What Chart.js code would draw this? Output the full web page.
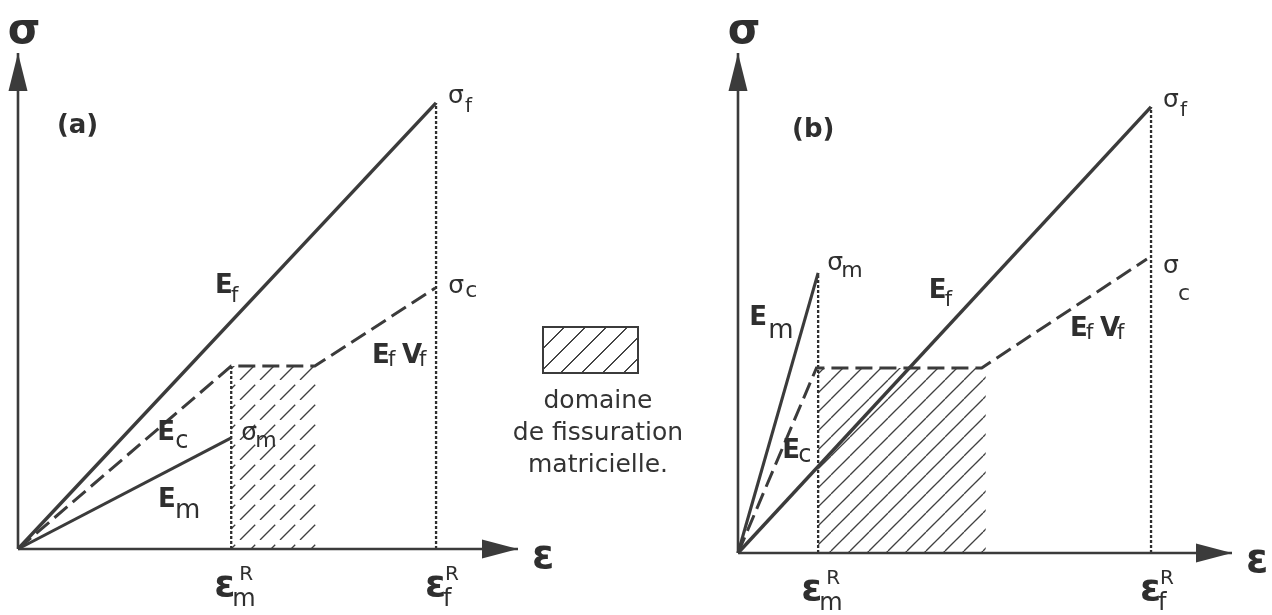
<!DOCTYPE html>
<html>
<head>
<meta charset="utf-8">
<script src="https://cdn.jsdelivr.net/npm/chart.js@4/dist/chart.umd.min.js"></script>
<style>
  html, body { margin:0; padding:0; background:#ffffff; }
  body { width:1272px; height:615px; position:relative; overflow:hidden; }
  canvas { position:absolute; top:0; }
  #cA { left:0; }
  #cB { left:660px; }
  #legBox { position:absolute; left:542px; top:326px; width:97px; height:48px; box-sizing:border-box;
    border:2.6px solid #3b3b3b; z-index:2;
    background: repeating-linear-gradient(135deg, rgba(0,0,0,0) 0 13.3px, #444 13.3px 14.8px); }
  #legText { position:absolute; left:498px; top:384px; width:200px; text-align:center; z-index:2;
    font-family:"DejaVu Sans", sans-serif; font-size:25px; line-height:32px; color:#333; }
</style>
</head>
<body>
<canvas id="cA" width="620" height="615"></canvas>
<canvas id="cB" width="612" height="615"></canvas>
<div id="legBox"></div>
<div id="legText">domaine<br>de fissuration<br>matricielle.</div>
<script>
// ---------- Panel (a): strain (ε) / stress (σ), normalised to ε_f^R = 1, σ_f = 1 ----------
const A_EF_EPS = [0, 1.0];                    const A_EF_SIG = [0, 1.0];
const A_EM_EPS = [0, 0.51];                   const A_EM_SIG = [0, 0.249];
const A_EC_EPS = [0, 0.51, 0.71, 0.998];      const A_EC_SIG = [0, 0.41, 0.41, 0.585];
const A_CRACK_EPS = [0.51, 0.718];            const A_CRACK_SIG = [0.41, 0.41];
const A_AXIS_MAX = [1.196, 1.112];

// ---------- Panel (b) ----------
const B_EF_EPS = [0, 1.0];                    const B_EF_SIG = [0, 1.0];
const B_EM_EPS = [0, 0.194];                  const B_EM_SIG = [0, 0.628];
const B_EC_EPS = [0, 0.19, 0.59, 0.99];       const B_EC_SIG = [0, 0.415, 0.415, 0.659];
const B_CRACK_EPS = [0.194, 0.60];            const B_CRACK_SIG = [0.415, 0.415];
const B_AXIS_MAX = [1.196, 1.121];

const INK = '#3b3b3b';
const FF = '"DejaVu Sans", sans-serif';
const bold = s => `bold ${s}px ${FF}`;
const reg = s => `${s}px ${FF}`;

function pts(xs, ys) { return xs.map((v, i) => ({ x: v, y: ys[i] })); }

function hatch(step, dashed) {
  const c = document.createElement('canvas');
  c.width = step; c.height = step;
  const g = c.getContext('2d');
  g.strokeStyle = '#404040';
  g.lineWidth = 1.3;
  const diag = step * Math.SQRT2;
  if (dashed) g.setLineDash([diag * 0.76, diag * 0.24]);
  for (const k of [-step, 0, step]) {
    g.beginPath();
    g.moveTo(k, step);
    g.lineTo(k + step, 0);
    g.stroke();
  }
  return g.createPattern(c, 'repeat');
}

function line(data, extra) {
  return Object.assign({
    data, borderColor: INK, backgroundColor: INK, pointRadius: 0, pointHoverRadius: 0,
    tension: 0, fill: false, clip: false, borderCapStyle: 'butt', borderJoinStyle: 'miter'
  }, extra);
}

const diagramPlugin = {
  id: 'diagram',
  afterDatasetsDraw(chart, args, opts) {
    const { ctx } = chart;
    const xs = chart.scales.x, ys = chart.scales.y;
    const ox = xs.getPixelForValue(0), oy = ys.getPixelForValue(0);
    const tx = xs.getPixelForValue(xs.max), ty = ys.getPixelForValue(ys.max);
    ctx.save();
    ctx.fillStyle = INK;
    // arrow heads
    ctx.beginPath();
    ctx.moveTo(tx, oy); ctx.lineTo(tx - 36, oy - 9.5); ctx.lineTo(tx - 36, oy + 9.5); ctx.closePath();
    ctx.fill();
    ctx.beginPath();
    ctx.moveTo(ox, ty); ctx.lineTo(ox - 9.5, ty + 38); ctx.lineTo(ox + 9.5, ty + 38); ctx.closePath();
    ctx.fill();
    // labels
    ctx.fillStyle = '#2f2f2f';
    ctx.textBaseline = 'alphabetic';
    for (const lab of opts.labels) {
      const ax = xs.getPixelForValue(lab.at[0]), ay = ys.getPixelForValue(lab.at[1]);
      for (const r of lab.runs) {
        ctx.font = r[1];
        ctx.textAlign = r[4] || 'left';
        ctx.fillText(r[0], ax + r[2], ay + r[3]);
      }
    }
    ctx.restore();
  }
};

function panel(id, p) {
  const epsM = p.emEps[1], epsF = p.efEps[1];
  const dotTop = Math.max(p.emSig[1], p.ecSig[1]);
  const datasets = [
    line(pts([0, p.axisMax[0]], [0, 0]), { borderWidth: 2.6 }),
    line(pts([0, 0], [0, p.axisMax[1]]), { borderWidth: 2.6 }),
    line(pts(p.efEps, p.efSig), { borderWidth: 3.4 }),
    line(pts(p.emEps, p.emSig), { borderWidth: 3.1 }),
    line(pts(p.ecEps, p.ecSig), { borderWidth: 3, borderDash: [17, 7] }),
    line(pts([epsM, epsM], [0, dotTop]), { borderWidth: 2.3, borderDash: [3, 2], borderColor: '#2e2e2e' }),
    line(pts([epsF, epsF], [0, p.efSig[1]]), { borderWidth: 2.3, borderDash: [3, 2], borderColor: '#2e2e2e' }),
    { data: pts(p.crackEps, p.crackSig), borderWidth: 0, borderColor: 'rgba(0,0,0,0)',
      backgroundColor: hatch(p.hatchStep, p.hatchDashed), fill: 'origin', pointRadius: 0, clip: false, tension: 0 }
  ];
  const common = [
    { at: [0, p.axisMax[1]], runs: [['σ', bold(42), 6, -10, 'center']] },
    { at: [p.axisMax[0], 0], runs: [['ε', bold(40), 14, 19]] },
    { at: [epsM, 0], runs: [['ε', bold(38), -17, 47], ['m', reg(24), 1, 57], ['R', reg(20), 8, 31]] },
    { at: [epsF, 0], runs: [['ε', bold(38), -11, 47], ['f', reg(24), 7, 57], ['R', reg(20), 9, 31]] },
    { at: [p.efEps[1], p.efSig[1]], runs: [['σ', reg(25), 12, 0], ['f', reg(20), 29, 9]] }
  ];
  return new Chart(document.getElementById(id), {
    type: 'line',
    data: { datasets },
    options: {
      responsive: false, animation: false, events: [],
      layout: { padding: p.pad },
      scales: {
        x: { type: 'linear', min: 0, max: p.axisMax[0], display: false },
        y: { type: 'linear', min: 0, max: p.axisMax[1], display: false }
      },
      plugins: { legend: { display: false }, tooltip: { enabled: false },
                 diagram: { labels: common.concat(p.labels) } }
    },
    plugins: [diagramPlugin]
  });
}

panel('cA', {
  efEps: A_EF_EPS, efSig: A_EF_SIG, emEps: A_EM_EPS, emSig: A_EM_SIG,
  ecEps: A_EC_EPS, ecSig: A_EC_SIG, crackEps: A_CRACK_EPS, crackSig: A_CRACK_SIG,
  axisMax: A_AXIS_MAX, hatchStep: 20, hatchDashed: true,
  pad: { left: 18, right: 102, top: 53, bottom: 66 },
  labels: [
    { at: [0.093, 0.933], runs: [['(a)', bold(26), 0, 0]] },
    { at: [0.471, 0.574], runs: [['E', bold(26), 0, 0], ['f', reg(21), 16, 9]] },
    { at: [0.333, 0.244], runs: [['E', bold(26), 0, 0], ['c', reg(24), 18, 8]] },
    { at: [0.335, 0.094], runs: [['E', bold(26), 0, 0], ['m', reg(26), 17, 11]] },
    { at: [0.847, 0.417], runs: [['E', bold(26), 0, 0], ['f', reg(21), 16, 3], ['V', bold(26), 30, 0], ['f', reg(21), 47, 3]] },
    { at: [A_EM_EPS[1], A_EM_SIG[1]], runs: [['σ', reg(25), 10, 2], ['m', reg(22), 24, 9]] },
    { at: [A_EC_EPS[3], A_EC_SIG[3]], runs: [['σ', reg(25), 13, 5], ['c', reg(22), 30, 9]] }
  ]
});

panel('cB', {
  efEps: B_EF_EPS, efSig: B_EF_SIG, emEps: B_EM_EPS, emSig: B_EM_SIG,
  ecEps: B_EC_EPS, ecSig: B_EC_SIG, crackEps: B_CRACK_EPS, crackSig: B_CRACK_SIG,
  axisMax: B_AXIS_MAX, hatchStep: 19, hatchDashed: false,
  pad: { left: 78, right: 40, top: 53, bottom: 62 },
  labels: [
    { at: [0.131, 0.933], runs: [['(b)', bold(26), 0, 0]] },
    { at: [0.027, 0.511], runs: [['E', bold(26), 0, 0], ['m', reg(26), 19, 13]] },
    { at: [0.107, 0.213], runs: [['E', bold(26), 0, 0], ['c', reg(24), 16, 4]] },
    { at: [0.462, 0.572], runs: [['E', bold(26), 0, 0], ['f', reg(21), 16, 8]] },
    { at: [0.804, 0.487], runs: [['E', bold(26), 0, 0], ['f', reg(21), 16, 3], ['V', bold(26), 30, 0], ['f', reg(21), 47, 3]] },
    { at: [B_EM_EPS[1], B_EM_SIG[1]], runs: [['σ', reg(25), 9, -3], ['m', reg(22), 23, 4]] },
    { at: [B_EC_EPS[3], B_EC_SIG[3]], runs: [['σ', reg(25), 16, 14], ['c', reg(22), 31, 41]] }
  ]
});
</script>
</body>
</html>
